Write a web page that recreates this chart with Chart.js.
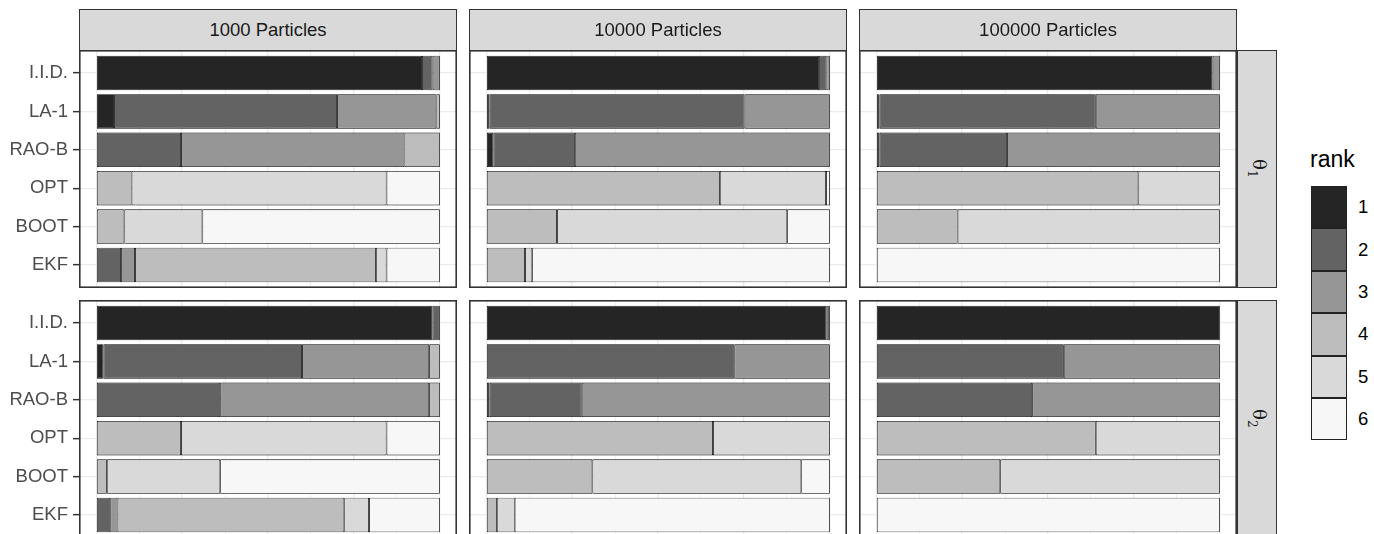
<!DOCTYPE html>
<html>
<head>
<meta charset="utf-8">
<script src="https://cdn.jsdelivr.net/npm/chart.js@4/dist/chart.umd.min.js"></script>
<style>
html,body{margin:0;padding:0;background:#fff;}
#root{position:relative;width:1374px;height:534px;overflow:hidden;font-family:"Liberation Sans",Arial,sans-serif;}
canvas{position:absolute;}
.strip{position:absolute;background:#d9d9d9;border:1.5px solid #333;box-sizing:border-box;color:#1a1a1a;font-size:18.5px;display:flex;align-items:center;justify-content:center;}
.rstrip span{display:inline-block;transform:rotate(90deg);font-family:"DejaVu Serif","Liberation Serif",serif;font-size:18px;white-space:nowrap;}
.rstrip sub{font-size:12px;}
.ltitle{position:absolute;font-size:23px;color:#000;}
.key{position:absolute;box-sizing:border-box;border:0.8px solid #222;}
.klab{position:absolute;font-size:18.5px;color:#000;}
</style>
</head>
<body>
<div id="root"></div>
<script>
// ---------- data ----------
const categories = ['I.I.D.', 'LA-1', 'RAO-B', 'OPT', 'BOOT', 'EKF'];
const ranks = ['1', '2', '3', '4', '5', '6'];
const particleLabels = ['1000 Particles', '10000 Particles', '100000 Particles'];
const paramNames = ['θ', 'θ'];
const paramSubs = ['1', '2'];
const rankColors = ['#252525', '#636363', '#969696', '#bdbdbd', '#d9d9d9', '#f7f7f7'];
const xGridValues = [0, 0.125, 0.25, 0.375, 0.5, 0.625, 0.75, 0.875, 1];

// proportion of each rank (columns 1..6) per method (rows in category order)
const theta1_p1000 = [
  [0.948, 0.031, 0.021, 0, 0, 0],
  [0.052, 0.649, 0.289, 0.010, 0, 0],
  [0, 0.247, 0.650, 0.103, 0, 0],
  [0, 0, 0, 0.103, 0.742, 0.155],
  [0, 0, 0, 0.082, 0.227, 0.691],
  [0, 0.072, 0.041, 0.701, 0.031, 0.155]
];
const theta1_p10000 = [
  [0.969, 0.021, 0.010, 0, 0, 0],
  [0.010, 0.742, 0.248, 0, 0, 0],
  [0.021, 0.237, 0.742, 0, 0, 0],
  [0, 0, 0, 0.680, 0.309, 0.011],
  [0, 0, 0, 0.206, 0.670, 0.124],
  [0, 0, 0, 0.113, 0.021, 0.866]
];
const theta1_p100000 = [
  [0.979, 0, 0.021, 0, 0, 0],
  [0.010, 0.629, 0.361, 0, 0, 0],
  [0.010, 0.371, 0.619, 0, 0, 0],
  [0, 0, 0, 0.763, 0.237, 0],
  [0, 0, 0, 0.237, 0.763, 0],
  [0, 0, 0, 0, 0, 1]
];
const theta2_p1000 = [
  [0.979, 0.021, 0, 0, 0, 0],
  [0.021, 0.578, 0.370, 0.031, 0, 0],
  [0, 0.361, 0.608, 0.031, 0, 0],
  [0, 0, 0, 0.247, 0.598, 0.155],
  [0, 0, 0, 0.031, 0.330, 0.639],
  [0, 0.041, 0.021, 0.660, 0.072, 0.206]
];
const theta2_p10000 = [
  [0.990, 0.010, 0, 0, 0, 0],
  [0, 0.722, 0.278, 0, 0, 0],
  [0.010, 0.268, 0.722, 0, 0, 0],
  [0, 0, 0, 0.660, 0.340, 0],
  [0, 0, 0, 0.309, 0.608, 0.083],
  [0, 0, 0, 0.031, 0.052, 0.917]
];
const theta2_p100000 = [
  [1, 0, 0, 0, 0, 0],
  [0, 0.546, 0.454, 0, 0, 0],
  [0, 0.454, 0.546, 0, 0, 0],
  [0, 0, 0, 0.639, 0.361, 0],
  [0, 0, 0, 0.361, 0.639, 0],
  [0, 0, 0, 0, 0, 1]
];
const panels = [
  [theta1_p1000, theta1_p10000, theta1_p100000],
  [theta2_p1000, theta2_p10000, theta2_p100000]
];

// ---------- layout ----------
const FONT = '"Liberation Sans", Arial, sans-serif';
const colLeft = [79, 469, 859];
const panelW = 378;
const rowTop = [50, 300];
const panelH = 237.5;
const yAxisW = 79;
const root = document.getElementById('root');

const panelBorder = {
  id: 'panelBorder',
  afterDraw(chart) {
    const {ctx, chartArea: a} = chart;
    ctx.save();
    ctx.strokeStyle = '#333333';
    ctx.lineWidth = 1.6;
    ctx.strokeRect(a.left + 0.8, a.top + 0.8, a.right - a.left - 1.6, a.bottom - a.top - 1.6);
    ctx.restore();
  }
};

function makePanel(values, r, c) {
  const showY = c === 0;
  const cv = document.createElement('canvas');
  const left = showY ? 0 : colLeft[c];
  const w = showY ? colLeft[0] + panelW : panelW;
  cv.width = w; cv.height = Math.round(panelH);
  cv.style.left = left + 'px'; cv.style.top = rowTop[r] + 'px';
  cv.style.width = w + 'px'; cv.style.height = Math.round(panelH) + 'px';
  root.appendChild(cv);

  const datasets = ranks.map((rk, k) => ({
    label: rk,
    data: categories.map((cat, i) => ({x: values[i][k], y: i})).filter(p => p.x > 0),
    backgroundColor: rankColors[k],
    borderColor: '#000000',
    borderWidth: 0.85,
    borderSkipped: false,
    barPercentage: 0.9,
    categoryPercentage: 1.0
  }));

  new Chart(cv, {
    type: 'bar',
    data: {datasets},
    options: {
      indexAxis: 'y',
      responsive: false,
      animation: false,
      devicePixelRatio: 1,
      layout: {padding: 0},
      plugins: {legend: {display: false}, tooltip: {enabled: false}},
      scales: {
        x: {
          type: 'linear', stacked: true, min: -0.05, max: 1.05, offset: false,
          afterBuildTicks: s => { s.ticks = xGridValues.map(v => ({value: v})); },
          ticks: {display: false},
          grid: {
            color: '#ebebeb', drawTicks: false, offset: false,
            lineWidth: ctx => (ctx.tick && Math.abs(ctx.tick.value * 4 - Math.round(ctx.tick.value * 4)) < 1e-6) ? 1.3 : 0.7
          },
          border: {display: false},
          afterFit: s => { s.height = 0; s.paddingLeft = 0; s.paddingRight = 0; }
        },
        y: {
          type: 'linear', stacked: true, reverse: true, min: -0.6, max: 5.6, offset: false,
          afterBuildTicks: s => { s.ticks = categories.map((cat, i) => ({value: i})); },
          ticks: {
            display: showY, autoSkip: false, padding: 5,
            callback: v => categories[v],
            color: '#4d4d4d', font: {family: FONT, size: 18.5}
          },
          grid: {color: '#ebebeb', lineWidth: 1.3, offset: false, drawTicks: showY, tickLength: 6, tickColor: '#333333', tickWidth: 1.5},
          border: {display: false},
          afterFit: s => { s.width = showY ? yAxisW : 0; s.paddingTop = 0; s.paddingBottom = 0; }
        }
      }
    },
    plugins: [panelBorder]
  });
}

panels.forEach((row, r) => row.forEach((vals, c) => makePanel(vals, r, c)));

// top strips
particleLabels.forEach((lab, c) => {
  const d = document.createElement('div');
  d.className = 'strip';
  d.style.left = colLeft[c] + 'px'; d.style.top = '9px';
  d.style.width = panelW + 'px'; d.style.height = '42px';
  d.textContent = lab;
  root.appendChild(d);
});
// right strips
paramNames.forEach((nm, r) => {
  const d = document.createElement('div');
  d.className = 'strip rstrip';
  d.style.left = '1237px'; d.style.top = rowTop[r] + 'px';
  d.style.width = '40px'; d.style.height = panelH + 'px';
  const s = document.createElement('span');
  s.textContent = nm;
  const sub = document.createElement('sub');
  sub.textContent = paramSubs[r];
  s.appendChild(sub);
  d.appendChild(s);
  root.appendChild(d);
});
// legend
const t = document.createElement('div');
t.className = 'ltitle';
t.style.left = '1310px'; t.style.top = '146px';
t.textContent = 'rank';
root.appendChild(t);
const keyTop = 186, keyH = 42.4;
ranks.forEach((rk, k) => {
  const kd = document.createElement('div');
  kd.className = 'key';
  kd.style.left = '1311px'; kd.style.top = (keyTop + k * keyH) + 'px';
  kd.style.width = '36px'; kd.style.height = keyH + 'px';
  kd.style.background = rankColors[k];
  root.appendChild(kd);
  const l = document.createElement('div');
  l.className = 'klab';
  l.style.left = '1358px'; l.style.top = (keyTop + k * keyH + keyH / 2 - 11) + 'px';
  l.textContent = rk;
  root.appendChild(l);
});
</script>
</body>
</html>
